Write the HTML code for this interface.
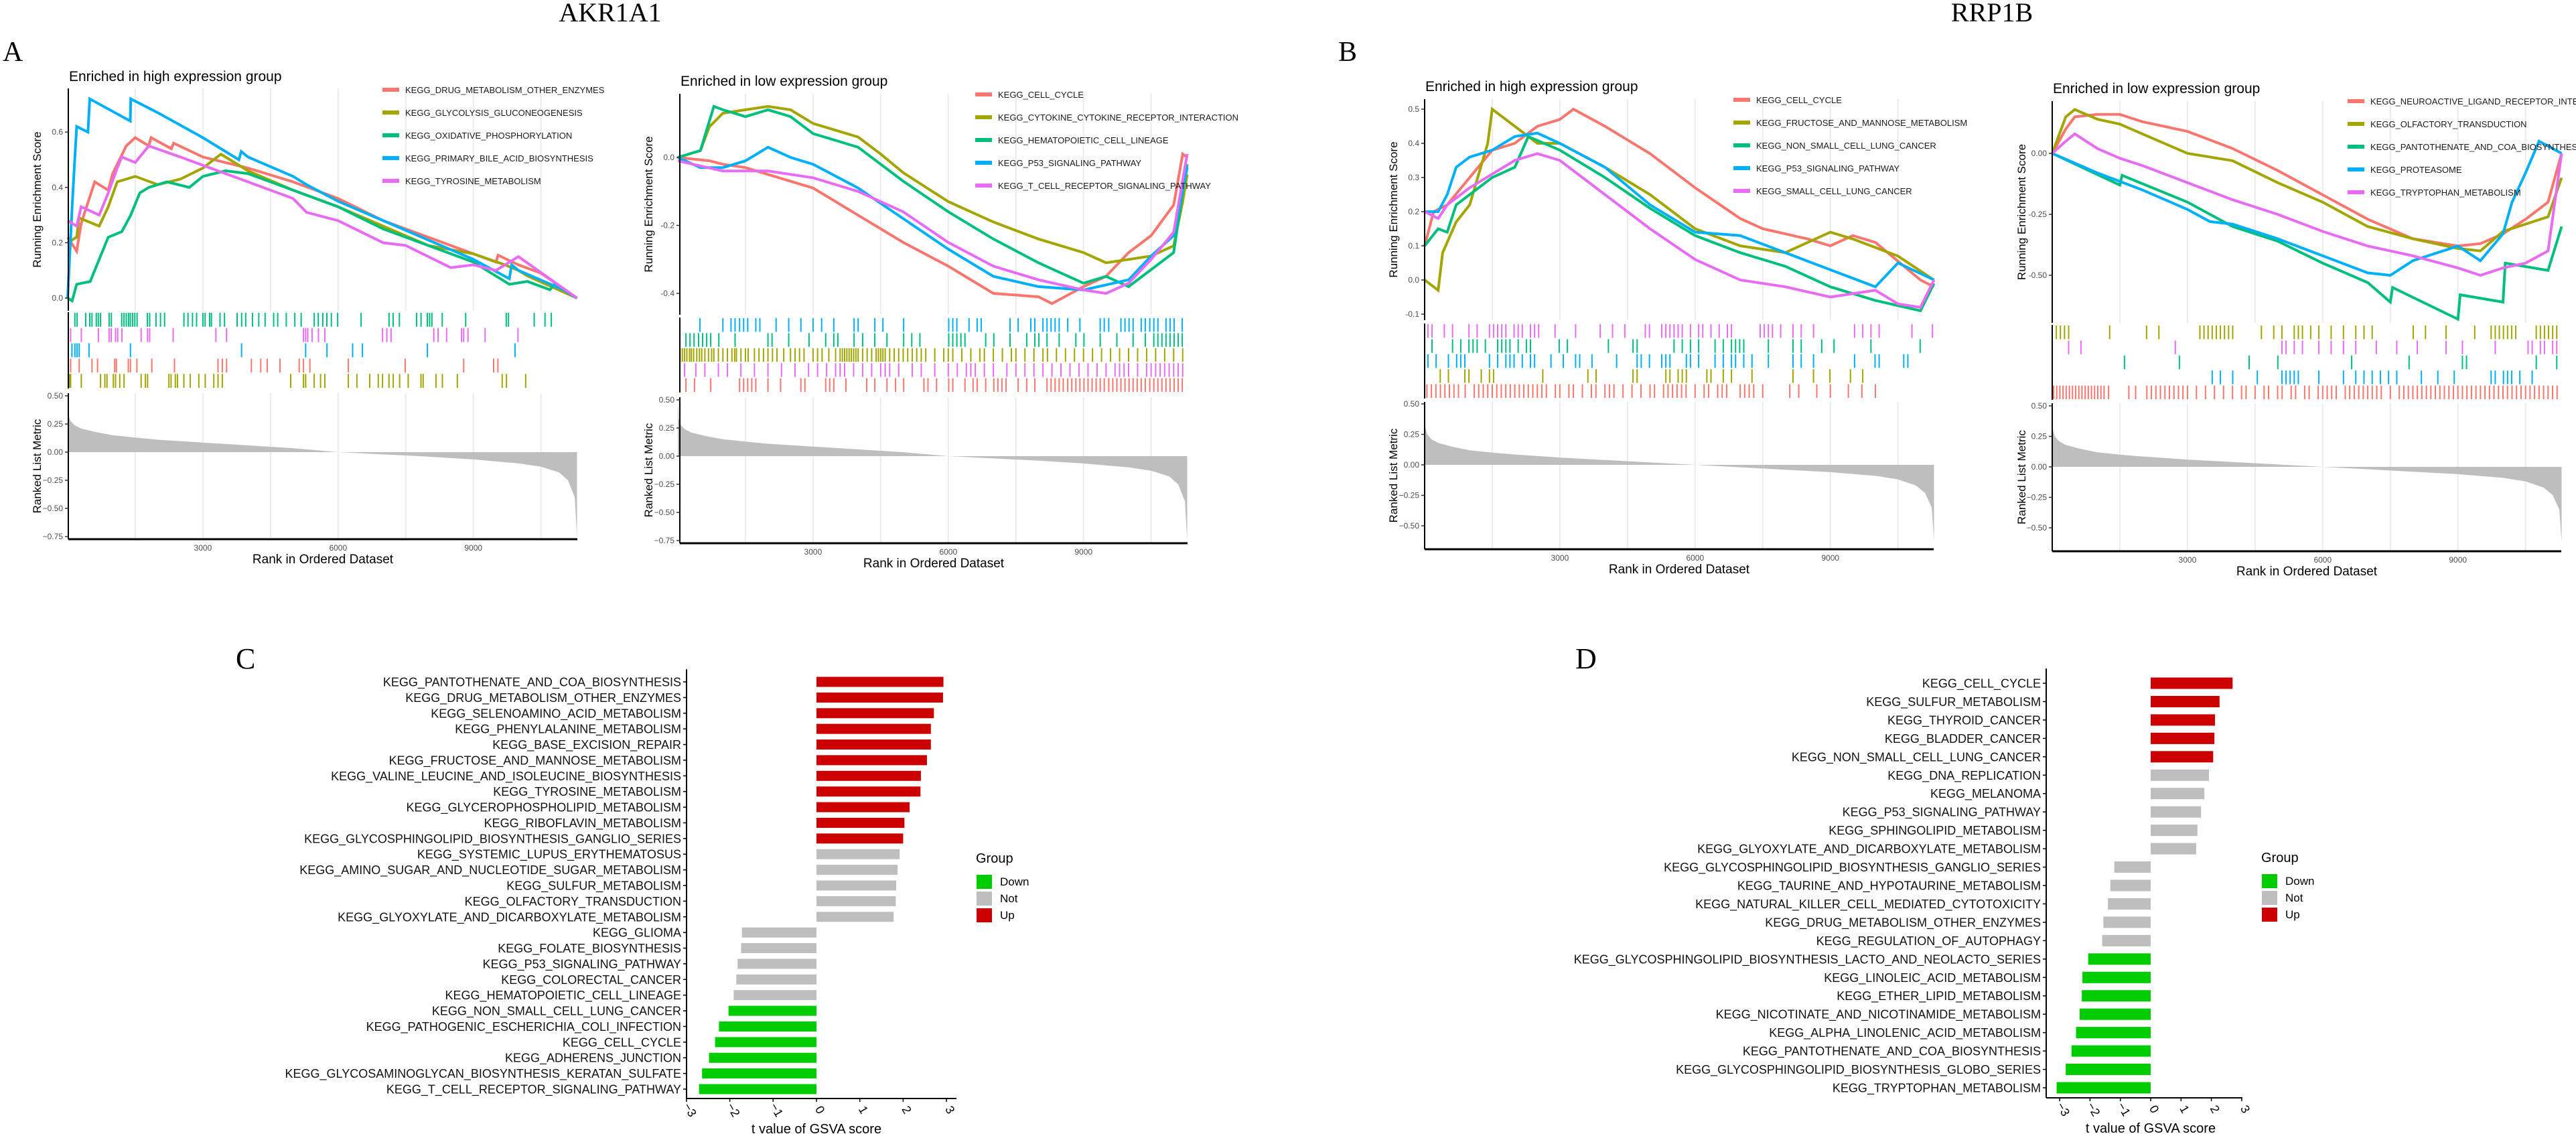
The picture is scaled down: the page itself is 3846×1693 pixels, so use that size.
<!DOCTYPE html>
<html><head><meta charset="utf-8"><title>GSEA and GSVA figure</title>
<style>
html,body{margin:0;padding:0;background:#fff;}
svg{display:block;font-family:"Liberation Sans",sans-serif;}
</style></head>
<body>
<svg id="fig" xmlns="http://www.w3.org/2000/svg" width="3846" height="1693" viewBox="0 0 3846 1693">
<rect x="0" y="0" width="3846" height="1693" fill="#fff"/>
<text x="911" y="32" text-anchor="middle" font-family="Liberation Serif, serif" font-size="40">AKR1A1</text>
<text x="2974" y="32" text-anchor="middle" font-family="Liberation Serif, serif" font-size="40">RRP1B</text>
<text x="4" y="91" font-family="Liberation Serif, serif" font-size="42">A</text>
<text x="1998" y="91" font-family="Liberation Serif, serif" font-size="42">B</text>
<text x="352" y="998" font-family="Liberation Serif, serif" font-size="44">C</text>
<text x="2352" y="998" font-family="Liberation Serif, serif" font-size="44">D</text>
<g id="layer"></g>
</svg>
<script>
// ---------- GSEA data (rank, running enrichment score) ----------
const N_GENES = 11300;
const esA1Drug = [[0,0.22],[200,0.17],[300,0.27],[600,0.42],[900,0.39],[1000,0.45],[1300,0.55],[1500,0.58],[1800,0.55],[1850,0.58],[2300,0.54],[2350,0.56],[3000,0.51],[4000,0.47],[5000,0.42],[6000,0.36],[7000,0.28],[8000,0.22],[9000,0.16],[9500,0.13],[9550,0.155],[10000,0.12],[10500,0.09],[11300,0]];
const esA1Glyco = [[0,0.2],[200,0.22],[250,0.29],[700,0.26],[900,0.33],[1100,0.42],[1500,0.44],[2000,0.41],[2500,0.43],[3000,0.47],[3400,0.52],[4000,0.46],[5000,0.39],[6000,0.33],[7000,0.26],[8000,0.19],[9000,0.16],[9700,0.12],[10000,0.1],[10200,0.08],[11300,0]];
const esA1Oxphos = [[0,0.0],[100,-0.01],[200,0.05],[500,0.06],[700,0.14],[900,0.22],[1200,0.24],[1400,0.3],[1600,0.38],[1800,0.40],[2200,0.42],[2700,0.40],[3000,0.44],[3500,0.46],[4000,0.45],[5000,0.39],[6000,0.33],[7000,0.25],[8000,0.19],[9000,0.13],[9800,0.05],[10200,0.06],[10700,0.03],[10800,0.05],[11300,0.0]];
const esA1Bile = [[0,0],[100,0.33],[150,0.48],[200,0.62],[450,0.60],[490,0.72],[1390,0.64],[1400,0.72],[2000,0.67],[3000,0.58],[3800,0.50],[3850,0.53],[4000,0.51],[5000,0.44],[5300,0.41],[6000,0.35],[7000,0.28],[8000,0.21],[9000,0.14],[9800,0.07],[9850,0.12],[10000,0.10],[11000,0.03],[11300,0.0]];
const esA1Tyro = [[0,0.28],[200,0.26],[300,0.33],[700,0.30],[900,0.38],[1100,0.47],[1200,0.51],[1500,0.49],[1800,0.55],[2500,0.51],[3000,0.48],[4000,0.42],[5000,0.36],[5300,0.31],[6000,0.28],[7000,0.20],[7500,0.19],[8000,0.15],[8500,0.11],[9000,0.12],[9500,0.10],[10000,0.15],[11300,0]];

const esA2Cycle = [[0,0.0],[700,-0.01],[1000,-0.02],[1500,-0.03],[2000,-0.05],[3000,-0.09],[4000,-0.17],[5000,-0.25],[6000,-0.32],[7000,-0.40],[8000,-0.41],[8300,-0.43],[9000,-0.38],[9500,-0.35],[10000,-0.28],[10500,-0.23],[11000,-0.14],[11200,0.01],[11300,0.0]];
const esA2Cytokine = [[0,0.0],[500,0.02],[700,0.09],[1000,0.13],[1500,0.14],[2000,0.15],[2500,0.14],[3000,0.10],[3500,0.08],[4000,0.06],[4500,0.01],[5000,-0.045],[6000,-0.13],[7000,-0.19],[8000,-0.24],[9000,-0.28],[9500,-0.31],[10000,-0.30],[10500,-0.29],[11000,-0.26],[11200,-0.13],[11300,-0.05]];
const esA2Hemato = [[0,0],[500,0.02],[800,0.15],[1000,0.14],[1500,0.12],[2000,0.14],[2500,0.12],[3000,0.07],[3500,0.05],[4000,0.03],[5000,-0.07],[6000,-0.16],[7000,-0.24],[8000,-0.31],[8500,-0.34],[9000,-0.37],[9500,-0.35],[10000,-0.38],[10500,-0.33],[11000,-0.28],[11200,-0.1],[11300,-0.02]];
const esA2P53 = [[0,0.0],[500,-0.03],[1000,-0.03],[1500,-0.01],[2000,0.03],[2500,0.0],[3000,-0.02],[4000,-0.09],[5000,-0.18],[6000,-0.27],[7000,-0.35],[8000,-0.38],[9000,-0.39],[10000,-0.36],[10500,-0.29],[11000,-0.23],[11300,-0.03]];
const esA2Tcell = [[0,-0.01],[1000,-0.04],[2000,-0.04],[3000,-0.06],[4000,-0.10],[5000,-0.16],[6000,-0.25],[7000,-0.32],[8000,-0.36],[9000,-0.39],[9500,-0.40],[10000,-0.37],[10500,-0.30],[11000,-0.22],[11300,0.01]];

const esB1Cycle = [[0,0.1],[200,0.2],[500,0.22],[1000,0.3],[1500,0.38],[2000,0.40],[2500,0.45],[3000,0.47],[3300,0.5],[4000,0.45],[5000,0.37],[6000,0.27],[7000,0.18],[7500,0.15],[8500,0.12],[9000,0.10],[9500,0.13],[10000,0.11],[11000,0.0],[11300,-0.02]];
const esB1Fructose = [[0,0.0],[300,-0.03],[400,0.08],[700,0.17],[1000,0.22],[1400,0.40],[1500,0.50],[2000,0.45],[2500,0.40],[3000,0.40],[4000,0.33],[5000,0.25],[6000,0.15],[7000,0.10],[8000,0.08],[9000,0.14],[9500,0.12],[10500,0.07],[11300,0.0]];
const esB1Nsclc = [[0,0.1],[300,0.15],[500,0.14],[700,0.22],[1000,0.25],[1500,0.30],[2000,0.33],[2300,0.42],[3000,0.38],[4000,0.30],[5000,0.21],[6000,0.13],[7000,0.08],[8000,0.04],[9000,-0.02],[10000,-0.06],[11000,-0.09],[11300,-0.01]];
const esB1P53 = [[0,0.2],[300,0.2],[500,0.25],[700,0.33],[1000,0.36],[1500,0.38],[2000,0.42],[2500,0.43],[3000,0.40],[4000,0.33],[5000,0.22],[6000,0.14],[7000,0.13],[8000,0.08],[9000,0.03],[10000,-0.02],[10500,0.05],[11300,0.0]];
const esB1Sclc = [[0,0.2],[300,0.18],[500,0.22],[1000,0.27],[1500,0.31],[2000,0.35],[2500,0.37],[3000,0.35],[4000,0.25],[5000,0.15],[6000,0.06],[7000,0.0],[8000,-0.02],[9000,-0.05],[10000,-0.03],[10500,-0.07],[11000,-0.08],[11300,0.0]];

const esB2Neuro = [[0,0.0],[300,0.10],[500,0.15],[1000,0.16],[1500,0.16],[2000,0.13],[3000,0.09],[4000,0.02],[5000,-0.07],[6000,-0.17],[7000,-0.27],[8000,-0.35],[9000,-0.38],[9500,-0.37],[10000,-0.33],[10500,-0.27],[11000,-0.20],[11300,0.0]];
const esB2Olfac = [[0,0.0],[300,0.15],[500,0.18],[1000,0.14],[1500,0.12],[2000,0.08],[3000,0.0],[4000,-0.03],[5000,-0.12],[6000,-0.20],[7000,-0.30],[8000,-0.35],[9000,-0.39],[9500,-0.40],[10000,-0.32],[10500,-0.29],[11000,-0.26],[11300,-0.10]];
const esB2Panto = [[0,0],[1500,-0.13],[1550,-0.09],[3000,-0.20],[4000,-0.30],[5000,-0.36],[6000,-0.45],[7000,-0.53],[7500,-0.61],[7550,-0.55],[9000,-0.68],[9050,-0.58],[10000,-0.61],[10050,-0.45],[11000,-0.48],[11300,-0.30]];
const esB2Protea = [[0,0],[1000,-0.08],[2000,-0.15],[3000,-0.23],[3500,-0.28],[4000,-0.29],[5000,-0.35],[6000,-0.42],[7000,-0.49],[7500,-0.50],[8000,-0.44],[9000,-0.38],[9500,-0.44],[10000,-0.33],[10200,-0.20],[10500,-0.08],[10800,0.05],[11300,0.0]];
const esB2Trypto = [[0,0],[300,0.05],[500,0.08],[1000,0.02],[1500,-0.02],[2000,-0.05],[3000,-0.12],[4000,-0.19],[5000,-0.25],[6000,-0.32],[7000,-0.38],[8000,-0.42],[9000,-0.47],[9500,-0.50],[10000,-0.47],[10500,-0.45],[11000,-0.40],[11300,0.0]];

// ---------- hit ranks (rug) ----------
const hitA1Oxphos = [160,210,400,490,540,635,680,730,920,970,1200,1250,1300,1350,1390,1440,1490,1540,1770,1820,1960,2060,2150,2580,2670,2770,2860,3000,3050,3150,3190,3380,3480,3760,3860,3950,4100,4240,4380,4570,4660,4850,5040,5180,5470,5560,5660,5750,5850,5990,6510,7130,7220,7360,7740,7840,7980,8030,8080,8310,8830,9730,9780,10350,10590,10730];
const hitA1Tyro = [66,303,682,919,967,1062,1110,1204,1630,1773,1820,2341,3289,3526,5232,5280,5327,5422,5564,5706,6986,7081,7175,8123,8218,8407,8739,8786,8881,9261,9990];
const hitA1Bile = [95,161,209,256,474,1393,3858,5280,5753,6322,6540,7981,9924];
const hitA1Drug = [66,256,540,663,1043,1081,1346,1393,1536,1867,2370,3336,3431,3526,4076,4284,4427,4711,5137,5232,5374,6227,7488,8786,9450,9545];
const hitA1Glyco = [38,66,303,730,825,872,1014,1062,1156,1251,1630,1725,1773,2246,2294,2389,2436,2578,2720,2910,3052,3242,3336,3431,4948,5232,5280,5469,5611,5706,6227,6417,6701,6891,6986,7128,7223,7365,7555,7839,7886,8171,8313,8645,9640,9735,10161];

const hitA2P53 = [490,1000,1180,1270,1370,1460,1550,1730,1820,2180,2460,2730,3000,3190,3460,3910,4000,4370,4550,5010,6010,6100,6190,6460,6640,6730,7370,7550,7830,7920,8100,8190,8280,8370,8460,8650,8920,9370,9460,9560,9830,9920,10010,10100,10280,10370,10470,10560,10650,10830,10920,11010,11190];
const hitA2Hemato = [180,270,360,460,550,640,730,910,1270,2000,2090,2460,2910,3280,3460,3550,3910,4100,4370,4640,5010,5190,5370,6010,6100,6190,6280,6370,6830,7010,7370,7740,7920,8010,8190,8460,8830,9010,9370,9740,10100,10370,10560,10650,10740,10830,10920,11010,11100,11190];
const hitA2Cytokine = [50,100,150,200,260,300,350,420,480,530,600,680,750,800,900,1000,1100,1200,1260,1300,1400,1500,1560,1700,1800,1900,2000,2100,2200,2350,2500,2600,2700,2800,3000,3100,3200,3350,3500,3600,3650,3700,3750,3800,3850,3900,3950,4000,4100,4200,4300,4400,4450,4500,4550,4600,4700,4800,4900,5000,5100,5200,5300,5400,5500,5700,5900,6000,6100,6300,6500,6700,6800,7000,7200,7400,7500,7700,7900,8100,8200,8400,8600,8800,9000,9200,9400,9600,9800,10000,10200,10400,10600,10800,11000,11200];
const hitA2Tcell = [150,400,600,900,1100,1400,1700,2000,2300,2600,2900,3100,3300,3500,3600,3700,3900,4100,4300,4500,4600,4700,4900,5200,5400,5700,6000,6200,6400,6500,6600,6800,7000,7300,7500,7700,7900,8100,8300,8500,8700,8900,9100,9300,9500,9700,9800,9900,10000,10200,10400,10500,10600,10700,10800,10900,11000,11100,11200];
const hitA2Cycle = [180,370,730,1370,1460,1550,1640,1730,2000,2280,2730,2820,3280,3370,3460,3730,4190,4370,4640,4830,5010,5460,5550,5740,6010,6100,6370,6550,6640,6830,7010,7100,7190,7280,7550,7740,7920,8190,8280,8370,8460,8550,8650,8740,8830,8920,9010,9100,9190,9280,9370,9460,9560,9650,9740,9830,9920,10010,10100,10190,10280,10370,10470,10560,10650,10740,10830,10920,11010,11100,11190];

const hitB1Sclc = [73,164,437,619,983,1165,1438,1529,1620,1711,1802,1984,2075,2166,2348,2439,2530,2894,3349,3895,4168,4441,4896,4987,5260,5351,5442,5533,5624,5715,5897,6079,6170,6352,6534,6716,6807,7444,7535,7626,7717,7899,8172,8354,8627,9537,9719,9901,10083,10811,11266];
const hitB1Nsclc = [164,619,801,983,1074,1165,1347,1620,1711,1802,1893,2075,2257,2348,2985,3167,4077,4623,4714,5533,5715,5897,6079,6443,6625,6807,6898,6989,7080,7626,8172,8354,8809,9082,9901,10993];
const hitB1P53 = [73,255,528,710,801,892,1438,1620,1802,1893,1984,2166,2348,2439,2803,3076,3349,3440,3713,4259,4714,4805,4987,5260,5351,5442,5806,5897,6079,6443,6625,6807,6898,7080,7262,7626,8172,8354,8627,9537,9992,10083,10629,10720];
const hitB1Fructose = [346,528,892,983,1256,1438,1529,2621,3622,3804,4623,4714,5351,5442,5624,5715,5806,6261,6352,6625,6807,7262,8172,8627,8991,9446,9719];
const hitB1Cycle = [50,150,250,350,450,550,650,750,900,1100,1200,1300,1400,1500,1600,1700,1800,1900,2000,2100,2200,2300,2400,2500,2600,2700,2900,3000,3200,3300,3500,3700,3800,4000,4100,4200,4400,4600,4800,5000,5100,5300,5400,5500,5600,5700,5800,6000,6200,6300,6500,6600,6700,7000,7100,7200,7300,7500,8100,8300,8700,9000,9400,9700,10000];

const hitB2Olfac = [91,182,273,364,1274,2093,2366,3276,3367,3458,3549,3640,3731,3822,3913,4004,4641,4914,5096,5369,5460,5551,5733,5915,6188,6461,6734,6916,7098,8008,8281,8736,9373,9737,9828,9919,10010,10101,10192,10283,10738,10829,10920,11011,11102,11193];
const hitB2Trypto = [364,637,2730,5096,5187,5369,5551,5915,6188,6461,6734,7189,7644,8099,8736,9100,9828,10556,10647,10829,10920,11102,11193];
const hitB2Panto = [1602,2821,4368,5005,6643,7917,9100,9191,10738,11193];
const hitB2Protea = [3549,3731,4004,4550,5096,5187,5278,5369,5460,5915,6461,6734,6916,7098,7280,7462,7644,8190,8554,8918,9737,9828,10010,10101,10192,10374,10647];
const hitB2Neuro = [30,100,170,240,310,380,450,520,590,660,730,800,870,940,1010,1080,1150,1250,1700,1850,2100,2200,2300,2400,2500,2600,2700,2800,2900,3000,3200,3400,3600,3800,4000,4200,4300,4500,4700,4800,5000,5100,5300,5400,5600,5700,5900,6000,6100,6200,6300,6500,6600,6700,6800,6900,7000,7100,7200,7300,7500,7700,7800,7900,8000,8100,8200,8300,8400,8500,8600,8700,8800,8900,9000,9100,9200,9300,9400,9500,9600,9700,9800,9900,10000,10100,10200,10300,10400,10500,10600,10700,10800,10900,11000,11100,11200];

// ---------- ranked list metric ----------
const rlmRanks = [0,20,60,150,300,600,1000,1500,2000,3000,4000,5000,6000,7000,8000,9000,10000,10500,10900,11100,11250,11300];
const rlmValuesA = [0.50,0.33,0.28,0.24,0.21,0.18,0.15,0.13,0.11,0.085,0.06,0.035,0.0,-0.02,-0.04,-0.065,-0.10,-0.13,-0.18,-0.25,-0.40,-0.75];
const rlmValuesB = [0.40,0.30,0.25,0.21,0.18,0.15,0.12,0.10,0.085,0.06,0.04,0.02,0.0,-0.02,-0.04,-0.06,-0.09,-0.12,-0.17,-0.23,-0.35,-0.62];

// ---------- legends ----------
const legA1 = ["KEGG_DRUG_METABOLISM_OTHER_ENZYMES","KEGG_GLYCOLYSIS_GLUCONEOGENESIS","KEGG_OXIDATIVE_PHOSPHORYLATION","KEGG_PRIMARY_BILE_ACID_BIOSYNTHESIS","KEGG_TYROSINE_METABOLISM"];
const legA2 = ["KEGG_CELL_CYCLE","KEGG_CYTOKINE_CYTOKINE_RECEPTOR_INTERACTION","KEGG_HEMATOPOIETIC_CELL_LINEAGE","KEGG_P53_SIGNALING_PATHWAY","KEGG_T_CELL_RECEPTOR_SIGNALING_PATHWAY"];
const legB1 = ["KEGG_CELL_CYCLE","KEGG_FRUCTOSE_AND_MANNOSE_METABOLISM","KEGG_NON_SMALL_CELL_LUNG_CANCER","KEGG_P53_SIGNALING_PATHWAY","KEGG_SMALL_CELL_LUNG_CANCER"];
const legB2 = ["KEGG_NEUROACTIVE_LIGAND_RECEPTOR_INTERACTION","KEGG_OLFACTORY_TRANSDUCTION","KEGG_PANTOTHENATE_AND_COA_BIOSYNTHESIS","KEGG_PROTEASOME","KEGG_TRYPTOPHAN_METABOLISM"];

const esTicksA1 = [0.0,0.2,0.4,0.6];
const esTicksA2 = [0.0,-0.2,-0.4];
const esTicksB1 = [-0.1,0.0,0.1,0.2,0.3,0.4,0.5];
const esTicksB2 = [0.0,-0.25,-0.5];
const rlmTicksA = [0.5,0.25,0,-0.25,-0.5,-0.75];
const rlmTicksB = [0.5,0.25,0,-0.25,-0.5];
const rankTicks = [3000,6000,9000];

// ---------- bar chart data ----------
const catC = ["KEGG_PANTOTHENATE_AND_COA_BIOSYNTHESIS","KEGG_DRUG_METABOLISM_OTHER_ENZYMES","KEGG_SELENOAMINO_ACID_METABOLISM","KEGG_PHENYLALANINE_METABOLISM","KEGG_BASE_EXCISION_REPAIR","KEGG_FRUCTOSE_AND_MANNOSE_METABOLISM","KEGG_VALINE_LEUCINE_AND_ISOLEUCINE_BIOSYNTHESIS","KEGG_TYROSINE_METABOLISM","KEGG_GLYCEROPHOSPHOLIPID_METABOLISM","KEGG_RIBOFLAVIN_METABOLISM","KEGG_GLYCOSPHINGOLIPID_BIOSYNTHESIS_GANGLIO_SERIES","KEGG_SYSTEMIC_LUPUS_ERYTHEMATOSUS","KEGG_AMINO_SUGAR_AND_NUCLEOTIDE_SUGAR_METABOLISM","KEGG_SULFUR_METABOLISM","KEGG_OLFACTORY_TRANSDUCTION","KEGG_GLYOXYLATE_AND_DICARBOXYLATE_METABOLISM","KEGG_GLIOMA","KEGG_FOLATE_BIOSYNTHESIS","KEGG_P53_SIGNALING_PATHWAY","KEGG_COLORECTAL_CANCER","KEGG_HEMATOPOIETIC_CELL_LINEAGE","KEGG_NON_SMALL_CELL_LUNG_CANCER","KEGG_PATHOGENIC_ESCHERICHIA_COLI_INFECTION","KEGG_CELL_CYCLE","KEGG_ADHERENS_JUNCTION","KEGG_GLYCOSAMINOGLYCAN_BIOSYNTHESIS_KERATAN_SULFATE","KEGG_T_CELL_RECEPTOR_SIGNALING_PATHWAY"];
const valC = [2.93,2.92,2.71,2.64,2.64,2.55,2.41,2.40,2.15,2.03,2.00,1.92,1.87,1.84,1.83,1.78,-1.72,-1.74,-1.82,-1.85,-1.91,-2.03,-2.25,-2.34,-2.48,-2.64,-2.71];
const grpC = ["Up","Up","Up","Up","Up","Up","Up","Up","Up","Up","Up","Not","Not","Not","Not","Not","Not","Not","Not","Not","Not","Down","Down","Down","Down","Down","Down"];
const catD = ["KEGG_CELL_CYCLE","KEGG_SULFUR_METABOLISM","KEGG_THYROID_CANCER","KEGG_BLADDER_CANCER","KEGG_NON_SMALL_CELL_LUNG_CANCER","KEGG_DNA_REPLICATION","KEGG_MELANOMA","KEGG_P53_SIGNALING_PATHWAY","KEGG_SPHINGOLIPID_METABOLISM","KEGG_GLYOXYLATE_AND_DICARBOXYLATE_METABOLISM","KEGG_GLYCOSPHINGOLIPID_BIOSYNTHESIS_GANGLIO_SERIES","KEGG_TAURINE_AND_HYPOTAURINE_METABOLISM","KEGG_NATURAL_KILLER_CELL_MEDIATED_CYTOTOXICITY","KEGG_DRUG_METABOLISM_OTHER_ENZYMES","KEGG_REGULATION_OF_AUTOPHAGY","KEGG_GLYCOSPHINGOLIPID_BIOSYNTHESIS_LACTO_AND_NEOLACTO_SERIES","KEGG_LINOLEIC_ACID_METABOLISM","KEGG_ETHER_LIPID_METABOLISM","KEGG_NICOTINATE_AND_NICOTINAMIDE_METABOLISM","KEGG_ALPHA_LINOLENIC_ACID_METABOLISM","KEGG_PANTOTHENATE_AND_COA_BIOSYNTHESIS","KEGG_GLYCOSPHINGOLIPID_BIOSYNTHESIS_GLOBO_SERIES","KEGG_TRYPTOPHAN_METABOLISM"];
const valD = [2.70,2.27,2.12,2.10,2.06,1.92,1.77,1.66,1.54,1.50,-1.20,-1.33,-1.41,-1.56,-1.60,-2.06,-2.25,-2.27,-2.34,-2.46,-2.61,-2.80,-3.10];
const grpD = ["Up","Up","Up","Up","Up","Not","Not","Not","Not","Not","Not","Not","Not","Not","Not","Down","Down","Down","Down","Down","Down","Down","Down"];
const barTicks = [-3,-2,-1,0,1,2,3];
const groupNames = ["Down","Not","Up"];

// ---------- rendering ----------
const NS = "http://www.w3.org/2000/svg";
const layer = document.getElementById("layer");
const COLS = ["#F8766D","#A3A500","#00BF7D","#00B0F6","#E76BF3"];
const GCOL = {Down:"#00CC00", Not:"#BEBEBE", Up:"#CC0000"};
function mk(tag, attrs, parent){
  const e = document.createElementNS(NS, tag);
  for (const k in attrs) e.setAttribute(k, attrs[k]);
  (parent||layer).appendChild(e);
  return e;
}
function txt(x,y,s,size,anchor,parent,extra){
  const t = mk("text",Object.assign({x:x,y:y,"font-size":size,"text-anchor":anchor||"start"},extra||{}),parent);
  t.textContent = s;
  return t;
}
function slug(s){return s.toLowerCase().replace(/_/g,'-');}

function gsea(cfg, series, legend, hits, rowColors, rlmV, esTicks, rlmTicks){
  const g = mk("g",{});
  
  
  const xs = r => cfg.x0 + r * cfg.kx;
  const ys = v => cfg.esZero - v * cfg.esK;
  const yr = v => cfg.rlmZero - v * cfg.rlmK;
  // grid
  for (let r = 1500; r < N_GENES; r += 1500){
    const gl1 = mk("line",{x1:xs(r),x2:xs(r),y1:cfg.esTop,y2:cfg.esBot,stroke:"#EBEBEB","stroke-width":2},g);
    
    
    const gl2 = mk("line",{x1:xs(r),x2:xs(r),y1:cfg.rlmTop,y2:cfg.rlmBot,stroke:"#EBEBEB","stroke-width":2},g);
    
    
  }
  // title
  const tt = txt(cfg.L+1, cfg.titleY+7, cfg.title, 21, "start", g, {transform:"", "font-stretch":"condensed"});
  
  
  // ES lines
  series.forEach((s,i)=>{
    const pts = s.map(p => xs(p[0]).toFixed(1)+","+ys(p[1]).toFixed(1)).join(" ");
    const pl = mk("polyline",{points:pts,fill:"none",stroke:COLS[i],"stroke-width":4,"stroke-linejoin":"miter"},g);
    
    
  });
  // ES axis
  const ax = mk("line",{x1:cfg.L,x2:cfg.L,y1:cfg.esTop,y2:cfg.esBot,stroke:"#000","stroke-width":2},g);
  
  
  esTicks.forEach(v=>{
    const tk = mk("line",{x1:cfg.L-5,x2:cfg.L,y1:ys(v),y2:ys(v),stroke:"#333","stroke-width":1.5},g);
    
    
    const lb = txt(cfg.L-8, ys(v)+4, (cfg.esDec===2? v.toFixed(2): v.toFixed(1)), 12, "end", g, {fill:"#4D4D4D"});
    
    
  });
  const yl = txt(0,0,"Running Enrichment Score",17,"middle",g,{transform:`translate(${cfg.ylabX},${(cfg.esTop+cfg.esBot)/2}) rotate(-90)`});
  
  
  // legend
  legend.forEach((name,i)=>{
    const y = cfg.legY + i*cfg.legDy;
    const sw = mk("rect",{x:cfg.legX,y:y-3,width:25,height:6,fill:COLS[i]},g);
    
    
    const lt = txt(cfg.legX+34, y+5, name, 13, "start", g, {fill:"#1a1a1a"});
    
    
  });
  // rug
  const rh = (cfg.rugBot - cfg.rugTop)/hits.length;
  hits.forEach((arr,ri)=>{
    arr.forEach(r=>{
      const hl = mk("line",{x1:xs(r),x2:xs(r),y1:cfg.rugTop+ri*rh+1,y2:cfg.rugTop+(ri+1)*rh-1,stroke:COLS[rowColors[ri]],"stroke-width":2},g);
      
      
    });
  });
  const rax = mk("line",{x1:cfg.L,x2:cfg.L,y1:cfg.rugTop,y2:cfg.rugBot,stroke:"#000","stroke-width":2},g);
  
  
  // RLM area
  let d = `M${xs(rlmRanks[0])},${yr(0)}`;
  rlmRanks.forEach((r,i)=>{ d += ` L${xs(r).toFixed(1)},${yr(rlmV[i]).toFixed(1)}`; });
  d += ` L${xs(rlmRanks[rlmRanks.length-1])},${yr(0)} Z`;
  const area = mk("path",{d:d,fill:"#BEBEBE",stroke:"none"},g);
  
  
  const lax = mk("line",{x1:cfg.L,x2:cfg.L,y1:cfg.rlmTop,y2:cfg.rlmBot,stroke:"#000","stroke-width":2},g);
  
  
  const bax = mk("line",{x1:cfg.L,x2:cfg.R,y1:cfg.rlmBot,y2:cfg.rlmBot,stroke:"#000","stroke-width":3},g);
  
  
  rlmTicks.forEach(v=>{
    const tk = mk("line",{x1:cfg.L-5,x2:cfg.L,y1:yr(v),y2:yr(v),stroke:"#333","stroke-width":1.5},g);
    
    
    const lb = txt(cfg.L-8, yr(v)+4, (v<0?"\u2212":"")+Math.abs(v).toFixed(2), 12, "end", g, {fill:"#4D4D4D"});
    
    
  });
  const yl2 = txt(0,0,"Ranked List Metric",17,"middle",g,{transform:`translate(${cfg.ylabX},${(cfg.rlmTop+cfg.rlmBot)/2}) rotate(-90)`});
  
  
  rankTicks.forEach(r=>{
    const lb = txt(xs(r), cfg.rlmBot+17, String(r), 12, "middle", g, {fill:"#4D4D4D"});
    
    
  });
  const xl = txt((cfg.L+cfg.R)/2, cfg.rlmBot+36, "Rank in Ordered Dataset", 19, "middle", g);
  
  
}

const KX = 0.0673;
gsea({id:"a-high",x0:101,L:102,R:862,kx:KX,esTop:132,esBot:464,esZero:445,esK:413,rugTop:466,rugBot:580,rlmTop:587,rlmBot:805,rlmZero:675,rlmK:168,title:"Enriched in high expression group",titleY:114,ylabX:61,legX:571,legY:134,legDy:34},
  [esA1Drug,esA1Glyco,esA1Oxphos,esA1Bile,esA1Tyro], legA1,
  [hitA1Oxphos,hitA1Tyro,hitA1Bile,hitA1Drug,hitA1Glyco],[2,4,3,0,1], rlmValuesA, esTicksA1, rlmTicksA);
gsea({id:"a-low",x0:1012,L:1015,R:1773,kx:KX,esTop:140,esBot:470,esZero:235,esK:507.5,rugTop:474,rugBot:586,rlmTop:593,rlmBot:811,rlmZero:681,rlmK:168,title:"Enriched in low expression group",titleY:121,ylabX:974,legX:1456,legY:141,legDy:34},
  [esA2Cycle,esA2Cytokine,esA2Hemato,esA2P53,esA2Tcell], legA2,
  [hitA2P53,hitA2Hemato,hitA2Cytokine,hitA2Tcell,hitA2Cycle],[3,2,1,4,0], rlmValuesA, esTicksA2, rlmTicksA);
gsea({id:"b-high",x0:2127,L:2127,R:2887,kx:KX,esTop:148,esBot:478,esZero:418,esK:510,rugTop:483,rugBot:595,rlmTop:600,rlmBot:820,rlmZero:694,rlmK:182,title:"Enriched in high expression group",titleY:129,ylabX:2086,legX:2588,legY:149,legDy:34},
  [esB1Cycle,esB1Fructose,esB1Nsclc,esB1P53,esB1Sclc], legB1,
  [hitB1Sclc,hitB1Nsclc,hitB1P53,hitB1Fructose,hitB1Cycle],[4,2,3,1,0], rlmValuesB, esTicksB1, rlmTicksB);
gsea({id:"b-low",x0:3064,L:3064,R:3824,kx:KX,esTop:151,esBot:482,esZero:229,esK:364,esDec:2,rugTop:485,rugBot:597,rlmTop:602,rlmBot:823,rlmZero:697,rlmK:182,title:"Enriched in low expression group",titleY:132,ylabX:3024,legX:3505,legY:151,legDy:34},
  [esB2Neuro,esB2Olfac,esB2Panto,esB2Protea,esB2Trypto], legB2,
  [hitB2Olfac,hitB2Trypto,hitB2Panto,hitB2Protea,hitB2Neuro],[1,4,2,3,0], rlmValuesB, esTicksB2, rlmTicksB);

function bars(cfg, cats, vals, grps){
  const g = mk("g",{});
  
  
  const xv = v => cfg.zeroX + v*cfg.unit;
  const step = (cfg.lastY - cfg.firstY)/(cats.length-1);
  const yc = i => cfg.firstY + i*step;
  const ti = txt(cfg.axisX, cfg.titleY+7, cfg.title, 21, "start", g);
  
  
  cats.forEach((c,i)=>{
    const v = vals[i];
    const x0 = Math.min(xv(0),xv(v)), w = Math.abs(xv(v)-xv(0));
    const b = mk("rect",{x:x0,y:yc(i)-cfg.bh/2,width:w,height:cfg.bh,fill:GCOL[grps[i]]},g);
    
    
    const tk = mk("line",{x1:cfg.axisX-5,x2:cfg.axisX,y1:yc(i),y2:yc(i),stroke:"#000","stroke-width":1.5},g);
    
    
    const lb = txt(cfg.axisX-8, yc(i)+6.5, c, 18, "end", g, {fill:"#111"});
    
    
  });
  const ya = mk("line",{x1:cfg.axisX,x2:cfg.axisX,y1:cfg.firstY-step*0.8,y2:cfg.axisY,stroke:"#000","stroke-width":2},g);
  
  
  const xa = mk("line",{x1:cfg.axisX,x2:cfg.axisEnd,y1:cfg.axisY,y2:cfg.axisY,stroke:"#000","stroke-width":2},g);
  
  
  barTicks.forEach(t=>{
    const tk = mk("line",{x1:xv(t),x2:xv(t),y1:cfg.axisY,y2:cfg.axisY+5,stroke:"#000","stroke-width":1.5},g);
    
    
    const lb = txt(0,0,String(t).replace("-","\u2212"),18,"middle",g,{transform:`translate(${xv(t)},${cfg.axisY+20}) rotate(60)`});
    
    
  });
  const xl = txt(cfg.zeroX, cfg.axisY+52, "t value of GSVA score", 20, "middle", g);
  
  
  const lt = txt(cfg.legX, cfg.legY, "Group", 20, "start", g);
  
  
  groupNames.forEach((n,i)=>{
    const y = cfg.legY + 18 + i*25;
    const sq = mk("rect",{x:cfg.legX+1,y:y,width:23,height:21,fill:GCOL[n]},g);
    
    
    const tt = txt(cfg.legX+36, y+16, n, 17, "start", g);
    
    
  });
}
bars({id:"c",zeroX:1219,unit:64.7,axisX:1025,axisEnd:1428,axisY:1640,firstY:1018,lastY:1626,bh:15,titleY:984,legX:1457,legY:1288}, catC, valC, grpC);
bars({id:"d",zeroX:3211,unit:45.3,axisX:3055,axisEnd:3348,axisY:1639,firstY:1020,lastY:1624,bh:17,titleY:983,legX:3376,legY:1287}, catD, valD, grpD);
</script>
</body></html>
